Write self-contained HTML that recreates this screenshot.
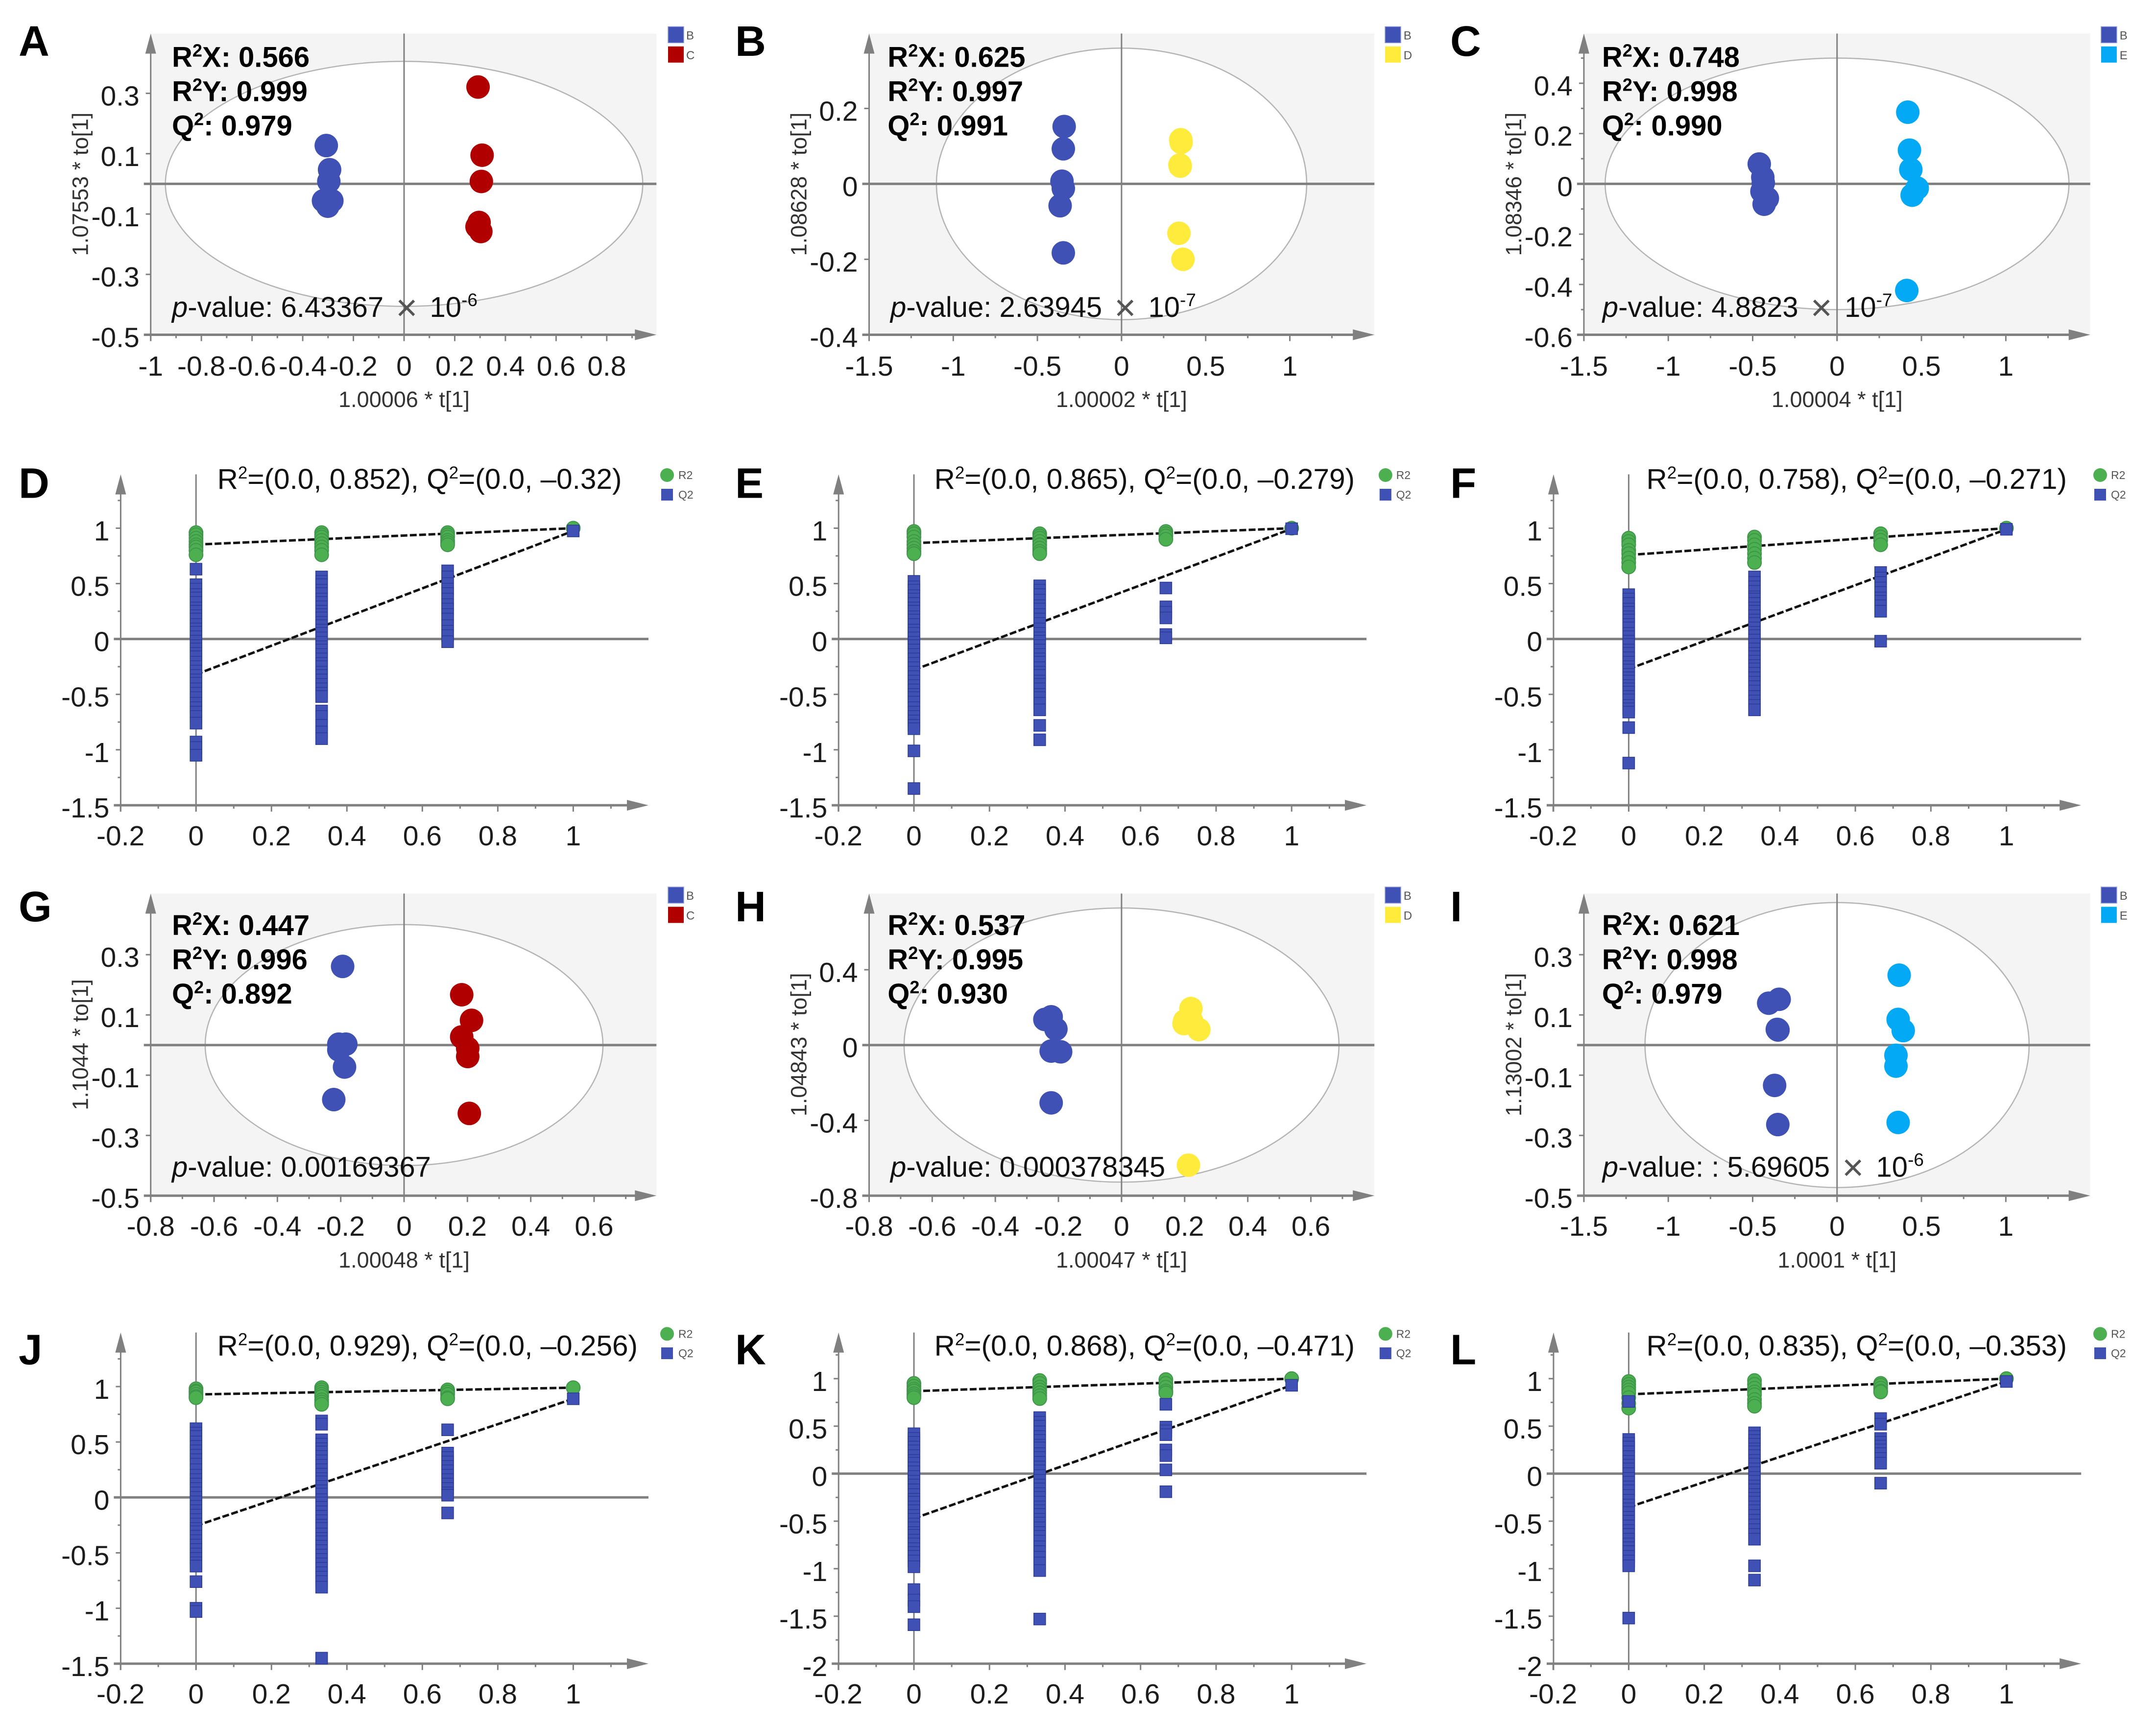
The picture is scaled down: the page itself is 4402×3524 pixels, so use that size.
<!DOCTYPE html>
<html lang="en">
<head>
<meta charset="utf-8">
<title>OPLS-DA score plots and permutation tests</title>
<style>
html,body{margin:0;padding:0;background:#fff;}
svg{display:block;font-family:"Liberation Sans",sans-serif;}
</style>
</head>
<body>
<svg id="figure" xmlns="http://www.w3.org/2000/svg" width="4402" height="3524" viewBox="0 0 4402 3524">
<rect x="0" y="0" width="4402" height="3524" fill="#ffffff"/>
</svg>
<script>
/* ---------- score plot data: t[1] and to[1] for each group ---------- */
const scoreA_t1 = [-0.307,-0.294,-0.297,-0.318,-0.285,-0.301];
const scoreA_to1 = [0.127,0.047,0.008,-0.056,-0.056,-0.074];
const scoreA_t2 = [0.292,0.308,0.305,0.296,0.288,0.303];
const scoreA_to2 = [0.321,0.095,0.008,-0.128,-0.142,-0.158];
const scoreB_t1 = [-0.341,-0.346,-0.354,-0.346,-0.365,-0.346];
const scoreB_to1 = [0.152,0.093,0.007,-0.012,-0.058,-0.183];
const scoreB_t2 = [0.352,0.349,0.341,0.365,0.354,0.347];
const scoreB_to2 = [0.117,0.047,-0.131,-0.2,0.11,0.05];
const scoreC_t1 = [-0.461,-0.44,-0.437,-0.413,-0.432,-0.445];
const scoreC_to1 = [0.079,0.026,0.004,-0.058,-0.081,-0.03];
const scoreC_t2 = [0.419,0.429,0.437,0.475,0.445,0.413];
const scoreC_to2 = [0.285,0.134,0.057,-0.017,-0.045,-0.424];
const scoreG_t1 = [-0.194,-0.206,-0.184,-0.206,-0.188,-0.222];
const scoreG_to1 = [0.261,0.003,0.003,-0.016,-0.073,-0.181];
const scoreG_t2 = [0.182,0.213,0.182,0.201,0.201,0.206];
const scoreG_to2 = [0.167,0.082,0.027,-0.011,-0.038,-0.227];
const scoreH_t1 = [-0.223,-0.243,-0.208,-0.223,-0.193,-0.223];
const scoreH_to1 = [0.15,0.136,0.085,-0.032,-0.036,-0.307];
const scoreH_t2 = [0.22,0.2,0.198,0.222,0.245,0.212];
const scoreH_to2 = [0.194,0.128,0.114,0.128,0.082,-0.638];
const scoreI_t1 = [-0.343,-0.405,-0.354,-0.37,-0.351,-0.35];
const scoreI_to1 = [0.152,0.139,0.052,-0.134,-0.264,0.05];
const scoreI_t2 = [0.368,0.362,0.392,0.349,0.349,0.362];
const scoreI_to2 = [0.232,0.085,0.048,-0.034,-0.07,-0.257];

/* ---------- score plot tick labels ---------- */
const xTicksWide1 = ['-1','-0.8','-0.6','-0.4','-0.2','0','0.2','0.4','0.6','0.8'];
const xTicksOneAndHalf = ['-1.5','-1','-0.5','0','0.5','1'];
const xTicksNarrow = ['-0.8','-0.6','-0.4','-0.2','0','0.2','0.4','0.6'];
const yTicksOdd = ['0.3','0.1','-0.1','-0.3','-0.5'];
const yTicksB = ['0.2','0','-0.2','-0.4'];
const yTicksC = ['0.4','0.2','0','-0.2','-0.4','-0.6'];
const yTicksH = ['0.4','0','-0.4','-0.8'];

/* ---------- permutation x levels and tick labels ---------- */
const permLevels = [0,0.333,0.667,1];
const permXTicks = ['-0.2','0','0.2','0.4','0.6','0.8','1'];
const permYTicksShort = ['1','0.5','0','-0.5','-1','-1.5'];
const permYTicksLong = ['1','0.5','0','-0.5','-1','-1.5','-2'];

/* ---------- permutation data: R2 and Q2 per level, plus regression intercepts ---------- */
const permD_r2 = [[0.96,0.94,0.91,0.88,0.85,0.83,0.8,0.76],[0.96,0.94,0.92,0.89,0.86,0.83,0.8,0.76],[0.96,0.94,0.92,0.89,0.87,0.85],[1]];
const permD_q2 = [[0.63,0.49,0.45,0.4,0.37,0.33,0.28,0.25,0.21,0.18,0.13,0.09,0.06,0.02,-0.02,-0.06,-0.09,-0.13,-0.16,-0.21,-0.25,-0.29,-0.33,-0.37,-0.4,-0.45,-0.49,-0.53,-0.58,-0.62,-0.66,-0.7,-0.76,-0.93,-0.98,-1.05],
  [0.56,0.52,0.49,0.44,0.41,0.36,0.33,0.29,0.25,0.22,0.19,0.15,0.12,0.08,0.05,0.01,-0.03,-0.07,-0.1,-0.14,-0.18,-0.22,-0.25,-0.3,-0.33,-0.37,-0.41,-0.45,-0.49,-0.52,-0.65,-0.7,-0.78,-0.84,-0.9],
  [0.615,0.56,0.5,0.45,0.41,0.36,0.31,0.27,0.22,0.18,0.12,0.07,0.03,-0.025],[0.975]];
const permE_r2 = [[0.97,0.95,0.92,0.88,0.85,0.82,0.79,0.77],[0.95,0.93,0.91,0.88,0.85,0.82,0.79,0.77],[0.97,0.95,0.93,0.9],[1]];
const permE_q2 = [[0.52,0.47,0.44,0.39,0.36,0.32,0.28,0.25,0.2,0.17,0.13,0.08,0.05,0.01,-0.03,-0.06,-0.1,-0.14,-0.18,-0.22,-0.26,-0.3,-0.34,-0.38,-0.42,-0.46,-0.5,-0.53,-0.57,-0.62,-0.66,-0.7,-0.74,-0.78,-0.81,-1.01,-1.35],
  [0.48,0.44,0.4,0.35,0.3,0.27,0.22,0.18,0.14,0.09,0.05,0.01,-0.02,-0.06,-0.1,-0.14,-0.18,-0.21,-0.26,-0.3,-0.33,-0.38,-0.41,-0.45,-0.5,-0.53,-0.58,-0.64,-0.78,-0.91],
  [0.46,0.29,0.24,0.19,0.04,0.01],[0.995]];
const permF_r2 = [[0.91,0.88,0.85,0.8,0.77,0.73,0.69,0.65],[0.92,0.89,0.85,0.81,0.77,0.73,0.69],[0.95,0.92,0.89,0.85],[1]];
const permF_q2 = [[0.4,0.36,0.32,0.27,0.24,0.2,0.17,0.13,0.1,0.05,0.02,-0.02,-0.05,-0.1,-0.13,-0.17,-0.21,-0.25,-0.28,-0.32,-0.35,-0.38,-0.42,-0.45,-0.48,-0.52,-0.55,-0.6,-0.63,-0.66,-0.8,-1.12],
  [0.56,0.51,0.47,0.43,0.38,0.36,0.32,0.28,0.25,0.21,0.17,0.14,0.1,0.06,0.03,-0.01,-0.05,-0.09,-0.13,-0.16,-0.2,-0.24,-0.27,-0.31,-0.35,-0.39,-0.43,-0.47,-0.52,-0.56,-0.6,-0.64],
  [0.6,0.55,0.51,0.46,0.42,0.37,0.34,0.3,0.25,-0.02],[0.99]];
const permJ_r2 = [[0.98,0.96,0.95,0.93,0.91,0.9],[0.99,0.97,0.95,0.93,0.91,0.88,0.86,0.84],[0.97,0.95,0.93,0.9,0.89],[0.99]];
const permJ_q2 = [[0.62,0.58,0.55,0.5,0.46,0.42,0.38,0.34,0.3,0.25,0.2,0.16,0.12,0.08,0.04,0,-0.04,-0.08,-0.12,-0.16,-0.2,-0.24,-0.28,-0.31,-0.35,-0.39,-0.43,-0.47,-0.51,-0.55,-0.59,-0.62,-0.76,-1,-1.03],
  [0.69,0.66,0.52,0.48,0.44,0.41,0.37,0.33,0.29,0.25,0.21,0.17,0.14,0.1,0.06,0.03,-0.02,-0.05,-0.09,-0.13,-0.17,-0.21,-0.25,-0.28,-0.33,-0.37,-0.4,-0.44,-0.48,-0.52,-0.56,-0.6,-0.64,-0.68,-0.72,-0.76,-0.81,-1.45],
  [0.61,0.4,0.36,0.32,0.28,0.24,0.2,0.16,0.12,0.08,0.04,0.02,-0.14],[0.89]];
const permK_r2 = [[0.95,0.92,0.89,0.87,0.84,0.82,0.8],[0.98,0.95,0.91,0.88,0.85,0.82,0.79],[0.99,0.95,0.91,0.87,0.85],[1]];
const permK_q2 = [[0.42,0.37,0.33,0.28,0.24,0.19,0.14,0.11,0.06,0.02,-0.03,-0.08,-0.12,-0.17,-0.22,-0.27,-0.3,-0.35,-0.39,-0.44,-0.48,-0.53,-0.57,-0.62,-0.65,-0.7,-0.74,-0.79,-0.83,-0.87,-0.92,-0.98,-1.22,-1.33,-1.4,-1.59],
  [0.59,0.54,0.5,0.44,0.39,0.35,0.3,0.27,0.21,0.17,0.12,0.07,0.03,-0.02,-0.07,-0.12,-0.16,-0.21,-0.25,-0.3,-0.35,-0.39,-0.43,-0.48,-0.52,-0.57,-0.62,-0.66,-0.71,-0.77,-0.82,-0.88,-0.94,-1.02,-1.53],
  [0.73,0.49,0.45,0.41,0.25,0.19,0.04,-0.19],[0.93]];
const permL_r2 = [[0.97,0.94,0.91,0.88,0.85,0.8,0.74,0.69],[0.98,0.94,0.9,0.86,0.83,0.78,0.74,0.71],[0.95,0.93,0.9,0.87,0.86],[1]];
const permL_q2 = [[0.76,0.36,0.32,0.28,0.23,0.18,0.13,0.09,0.05,0,-0.05,-0.09,-0.14,-0.18,-0.23,-0.28,-0.33,-0.37,-0.41,-0.46,-0.5,-0.55,-0.6,-0.64,-0.69,-0.74,-0.78,-0.82,-0.87,-0.92,-0.97,-1.52],
  [0.43,0.39,0.35,0.31,0.26,0.23,0.19,0.14,0.1,0.05,0.01,-0.04,-0.08,-0.13,-0.17,-0.22,-0.26,-0.3,-0.35,-0.39,-0.44,-0.49,-0.54,-0.59,-0.64,-0.69,-0.97,-1.12],
  [0.58,0.52,0.37,0.33,0.29,0.25,0.21,0.16,0.11,-0.1],[0.97]];
const r2Intercepts = [0.852,0.865,0.758,0.929,0.868,0.835];
const q2Intercepts = [-0.32,-0.279,-0.271,-0.256,-0.471,-0.353];
const permTitleR2 = ['0.852','0.865','0.758','0.929','0.868','0.835'];
const permTitleQ2 = ['–0.32','–0.279','–0.271','–0.256','–0.471','–0.353'];

/* ---------- model statistics ---------- */
const statsR2X = ['0.566','0.625','0.748','0.447','0.537','0.621'];
const statsR2Y = ['0.999','0.997','0.998','0.996','0.995','0.998'];
const statsQ2 = ['0.979','0.991','0.990','0.892','0.930','0.979'];
const pValueText = ['6.43367','2.63945','4.8823','0.00169367','0.000378345',': 5.69605'];
const pValueExp = ['-6','-7','-7','','','-6'];
const xTitles = ['1.00006 * t[1]','1.00002 * t[1]','1.00004 * t[1]','1.00048 * t[1]','1.00047 * t[1]','1.0001 * t[1]'];
const yTitles = ['1.07553 * to[1]','1.08628 * to[1]','1.08346 * to[1]','1.1044 * to[1]','1.04843 * to[1]','1.13002 * to[1]'];
/* ellipse semi-axes in data units */
const ellipseSemiT = [0.942,1.10,1.374,0.628,0.689,1.138];
const ellipseSemiTo = [0.406,0.36,0.5,0.40,0.728,0.473];

/* ---------- layout (pixels) kept apart from the data ---------- */
const columns = [
  {score:{left:307.7,zero:825,right:1340.3,stat:351,pv:351,legX:1364,legT:1401,letter:38},perm:{zero:400.2,unit:770.2,left:246.4,right:1324,title:443.6,legX:1362,legT:1385,letter:38}},
  {score:{left:1774.5,zero:2289.9,right:2806.2,stat:1812.3,pv:1818,legX:2828,legT:2865.7,letter:1501},perm:{zero:1866,unit:771.2,left:1712.2,right:2790,title:1907.6,legX:2828.8,legT:2850.6,letter:1501}},
  {score:{left:3233.9,zero:3750.8,right:4267.7,stat:3270.9,pv:3271.8,legX:4289.9,legT:4327.8,letter:2961},perm:{zero:3325.4,unit:771.2,left:3171.9,right:4249.2,title:3361.5,legX:4288,legT:4310,letter:2961}}
];
const scoreRows = [
  {top:68.5,bottom:683.5,zero:375.4,letterY:114,stat:[136.4,206.5,276.7],pv:647,leg:[54.4,94.8],xBase:767,titleBase:831},
  {top:1824.4,bottom:2441.2,zero:2133.7,letterY:1881,stat:[1909,1979,2049],pv:2402.5,leg:[1811,1851.4],xBase:2523,titleBase:2588}
];
const permRows = [
  {top:968.5,bottom:1644.1,zero:1304.6,letterY:1016.7,title:998,leg:[970,1010],xBase:1726},
  {top:2720.6,bottom:3396.7,zero:3057.3,letterY:2785.6,title:2767.4,leg:[2723.4,2763],xBase:3478}
];
const scorePanels = [
  {id:'A',col:0,row:0,stat:0,xUnit:517.3,yUnit:616,xTicks:xTicksWide1,yTicks:yTicksOdd,xStep:0.1,yMinor:false,g2:'C',color2:'#b00000',t1:scoreA_t1,to1:scoreA_to1,t2:scoreA_t2,to2:scoreA_to2},
  {id:'B',col:1,row:0,stat:1,xUnit:343.6,yUnit:770,xTicks:xTicksOneAndHalf,yTicks:yTicksB,xStep:0.25,yMinor:false,g2:'D',color2:'#ffeb3b',t1:scoreB_t1,to1:scoreB_to1,t2:scoreB_t2,to2:scoreB_to2},
  {id:'C',col:2,row:0,stat:2,xUnit:344.6,yUnit:513.5,xTicks:xTicksOneAndHalf,yTicks:yTicksC,xStep:0.25,yMinor:true,g2:'E',color2:'#03a9f4',t1:scoreC_t1,to1:scoreC_to1,t2:scoreC_t2,to2:scoreC_to2},
  {id:'G',col:0,row:1,stat:3,xUnit:646.6,yUnit:615,xTicks:xTicksNarrow,yTicks:yTicksOdd,xStep:0.1,yMinor:false,g2:'C',color2:'#b00000',t1:scoreG_t1,to1:scoreG_to1,t2:scoreG_t2,to2:scoreG_to2},
  {id:'H',col:1,row:1,stat:4,xUnit:644.3,yUnit:384.4,xTicks:xTicksNarrow,yTicks:yTicksH,xStep:0.1,yMinor:false,g2:'D',color2:'#ffeb3b',t1:scoreH_t1,to1:scoreH_to1,t2:scoreH_t2,to2:scoreH_to2},
  {id:'I',col:2,row:1,stat:5,xUnit:344.6,yUnit:615,xTicks:xTicksOneAndHalf,yTicks:yTicksOdd,xStep:0.25,yMinor:false,g2:'E',color2:'#03a9f4',t1:scoreI_t1,to1:scoreI_to1,t2:scoreI_t2,to2:scoreI_to2}
];
const permPanels = [
  {id:'D',col:0,row:0,idx:0,yUnit:226.2,zero:1304.6,yTicks:permYTicksShort,r2:permD_r2,q2:permD_q2},
  {id:'E',col:1,row:0,idx:1,yUnit:226.2,zero:1304.6,yTicks:permYTicksShort,r2:permE_r2,q2:permE_q2},
  {id:'F',col:2,row:0,idx:2,yUnit:226.2,zero:1304.6,yTicks:permYTicksShort,r2:permF_r2,q2:permF_q2},
  {id:'J',col:0,row:1,idx:3,yUnit:226.3,zero:3057.3,yTicks:permYTicksShort,r2:permJ_r2,q2:permJ_q2},
  {id:'K',col:1,row:1,idx:4,yUnit:194,zero:3008.8,yTicks:permYTicksLong,r2:permK_r2,q2:permK_q2},
  {id:'L',col:2,row:1,idx:5,yUnit:194,zero:3008.8,yTicks:permYTicksLong,r2:permL_r2,q2:permL_q2}
];

const NS = 'http://www.w3.org/2000/svg';
const root = document.getElementById('figure');
const AXIS = '#808080', BLUE = '#3f51b5', GREEN = '#4caf50';

function svgEl(parent, tag, props) {
  const el = document.createElementNS(NS, tag);
  for (const k in props) el.setAttribute(k, props[k]);
  parent.appendChild(el);
  return el;
}
function span(textEl, str, props) {
  const s = document.createElementNS(NS, 'tspan');
  for (const k in (props || {})) s.setAttribute(k, props[k]);
  s.textContent = str;
  textEl.appendChild(s);
  return s;
}
function drawLine(parent, name, x1, y1, x2, y2, w) {
  const l = svgEl(parent, 'line', {x1:x1, y1:y1, x2:x2, y2:y2, stroke:AXIS, 'stroke-width':w});
  
  
  return l;
}
function drawArrows(g, left, right, top, bottom) {
  const up = svgEl(g, 'polygon', {points:`${left-11},${top+41} ${left},${top} ${left+11},${top+41}`, fill:AXIS});
  
  
  const rt = svgEl(g, 'polygon', {points:`${right-44},${bottom-11} ${right},${bottom} ${right-44},${bottom+11}`, fill:AXIS});
  
  
}
function drawTicks(g, xTicks, yTicks, sx, sy, cfg) {
  const xVals = xTicks.map(parseFloat), yVals = yTicks.map(parseFloat);
  xTicks.forEach((lab, i) => {
    drawLine(g, 'x-tick', sx(xVals[i]), cfg.bottom, sx(xVals[i]), cfg.bottom + 13, 3);
    const t = svgEl(g, 'text', {x:sx(xVals[i]), y:cfg.xBase, 'font-size':57, 'text-anchor':'middle', fill:'#1c1c1c'});
    
    
    t.textContent = lab;
  });
  for (let v = xVals[0] + cfg.xStep; sx(v) < cfg.right - 30; v += cfg.xStep * 2) {
    drawLine(g, 'x-minor-tick', sx(v), cfg.bottom, sx(v), cfg.bottom + 7, 3);
  }
  yTicks.forEach((lab, i) => {
    drawLine(g, 'y-tick', cfg.left - 10, sy(yVals[i]), cfg.left, sy(yVals[i]), 3);
    const t = svgEl(g, 'text', {x:cfg.left - 23, y:sy(yVals[i]) + 25, 'font-size':57, 'text-anchor':'end', fill:'#1c1c1c'});
    
    
    t.textContent = lab;
  });
  if (cfg.yMinor) {
    const half = (yVals[0] - yVals[1]) / 2;
    for (let v = yVals[0] + half; sy(v) > cfg.top + 45; v += 2 * half) {
      drawLine(g, 'y-minor-tick', cfg.left - 6, sy(v), cfg.left, sy(v), 3);
    }
    for (let v = yVals[0] - half; sy(v) < cfg.bottom - 5; v -= 2 * half) {
      drawLine(g, 'y-minor-tick', cfg.left - 6, sy(v), cfg.left, sy(v), 3);
    }
  }
}
function drawLetter(g, letter, x, y) {
  const t = svgEl(g, 'text', {x:x, y:y, 'font-size':87, 'font-weight':'bold', fill:'#000'});
  
  
  t.textContent = letter;
}
function statLine(g, x, y, a, sup, b) {
  const t = svgEl(g, 'text', {x:x, y:y, 'font-size':58, 'font-weight':'bold', fill:'#000'});
  
  
  span(t, a);
  span(t, sup, {'font-size':36, dy:-21});
  span(t, b, {dy:21});
}

/* ---------- score plots ---------- */
scorePanels.forEach(p => {
  const col = columns[p.col].score, row = scoreRows[p.row], s = p.stat;
  const sx = v => col.zero + v * p.xUnit;
  const sy = v => row.zero - v * p.yUnit;
  const g = svgEl(root, 'g', {});
  
  
  drawLetter(g, p.id, col.letter, row.letterY);

  const bg = svgEl(g, 'rect', {x:col.left, y:row.top, width:col.right - col.left, height:row.bottom - row.top, fill:'#f4f4f4'});
  
  
  const el = svgEl(g, 'ellipse', {cx:sx(0), cy:sy(0), rx:ellipseSemiT[s] * p.xUnit, ry:ellipseSemiTo[s] * p.yUnit, fill:'#ffffff', stroke:'#b4b4b4', 'stroke-width':2.5});
  
  

  drawLine(g, 'vertical-zero-line', sx(0), row.top, sx(0), row.bottom + 13, 3);
  drawLine(g, 'horizontal-zero-line', col.left - 14, sy(0), col.right, sy(0), 5);
  drawLine(g, 'x-axis-line', col.left - 14, row.bottom, col.right - 30, row.bottom, 5);
  drawLine(g, 'y-axis-line', col.left, row.top + 20, col.left, row.bottom + 13, 3);
  drawArrows(g, col.left, col.right, row.top, row.bottom);
  drawTicks(g, p.xTicks, p.yTicks, sx, sy, {left:col.left, right:col.right, top:row.top, bottom:row.bottom, xBase:row.xBase, xStep:p.xStep, yMinor:p.yMinor});

  p.t1.forEach((v, i) => {
    const c = svgEl(g, 'circle', {cx:sx(v), cy:sy(p.to1[i]), r:24, fill:BLUE});
    
    
  });
  p.t2.forEach((v, i) => {
    const c = svgEl(g, 'circle', {cx:sx(v), cy:sy(p.to2[i]), r:24, fill:p.color2});
    
    
  });

  statLine(g, col.stat, row.stat[0], 'R', '2', 'X: ' + statsR2X[s]);
  statLine(g, col.stat, row.stat[1], 'R', '2', 'Y: ' + statsR2Y[s]);
  statLine(g, col.stat, row.stat[2], 'Q', '2', ': ' + statsQ2[s]);

  const pv = svgEl(g, 'text', {x:col.pv, y:row.pv, 'font-size':58, fill:'#111'});
  
  
  span(pv, 'p', {'font-style':'italic'});
  span(pv, '-value: ' + pValueText[s]);
  if (pValueExp[s]) {
    span(pv, '×', {fill:'#555', 'font-size':76, dx:25, dy:7});
    span(pv, '10', {dx:25, dy:-7});
    span(pv, pValueExp[s], {'font-size':37, dy:-22});
  }

  const xt = svgEl(g, 'text', {x:sx(0), y:row.titleBase, 'font-size':45, 'text-anchor':'middle', fill:'#333'});
  
  
  xt.textContent = xTitles[s];
  const bx = col.left - 128, by = (row.top + row.bottom) / 2;
  const yt = svgEl(g, 'text', {x:bx, y:by, 'font-size':45, 'text-anchor':'middle', fill:'#333', transform:`rotate(-90 ${bx} ${by})`});
  
  
  yt.textContent = yTitles[s];

  const leg1 = svgEl(g, 'rect', {x:col.legX, y:row.leg[0], width:32, height:33, fill:BLUE, stroke:'#8f9ad8', 'stroke-width':1.5});
  
  
  const lab1 = svgEl(g, 'text', {x:col.legT, y:row.leg[0] + 26, 'font-size':24, fill:'#555'});
  
  
  lab1.textContent = 'B';
  const leg2 = svgEl(g, 'rect', {x:col.legX, y:row.leg[1], width:32, height:33, fill:p.color2});
  
  
  const lab2 = svgEl(g, 'text', {x:col.legT, y:row.leg[1] + 26, 'font-size':24, fill:'#555'});
  
  
  lab2.textContent = p.g2;
});

/* ---------- permutation plots ---------- */
permPanels.forEach(p => {
  const col = columns[p.col].perm, row = permRows[p.row], n = p.idx;
  const sx = v => col.zero + v * col.unit;
  const sy = v => p.zero - v * p.yUnit;
  const g = svgEl(root, 'g', {});
  
  
  drawLetter(g, p.id, col.letter, row.letterY);

  const title = svgEl(g, 'text', {x:col.title, y:row.title, 'font-size':58.5, fill:'#111'});
  
  
  span(title, 'R');
  span(title, '2', {'font-size':35, dy:-21});
  span(title, '=(0.0, ' + permTitleR2[n] + '), Q', {dy:21});
  span(title, '2', {'font-size':35, dy:-21});
  span(title, '=(0.0, ' + permTitleQ2[n] + ')', {dy:21});

  drawLine(g, 'vertical-zero-line', sx(0), row.top, sx(0), row.bottom + 13, 3);
  drawLine(g, 'horizontal-zero-line', col.left - 14, sy(0), col.right, sy(0), 5);
  drawLine(g, 'x-axis-line', col.left - 14, row.bottom, col.right - 30, row.bottom, 5);
  drawLine(g, 'y-axis-line', col.left, row.top + 20, col.left, row.bottom + 13, 3);
  drawArrows(g, col.left, col.right, row.top, row.bottom);
  drawTicks(g, permXTicks, p.yTicks, sx, sy, {left:col.left, right:col.right, top:row.top, bottom:row.bottom, xBase:row.xBase, xStep:0.1, yMinor:true});

  const r2End = p.r2[3][0], q2End = p.q2[3][0];
  const l1 = svgEl(g, 'line', {x1:sx(0), y1:sy(r2Intercepts[n]), x2:sx(1), y2:sy(r2End), stroke:'#111', 'stroke-width':5, 'stroke-dasharray':'14 5'});
  
  
  const l2 = svgEl(g, 'line', {x1:sx(0), y1:sy(q2Intercepts[n]), x2:sx(1), y2:sy(q2End), stroke:'#111', 'stroke-width':5, 'stroke-dasharray':'14 5'});
  
  

  p.r2.forEach((vals, lv) => vals.forEach(v => {
    const c = svgEl(g, 'circle', {cx:sx(permLevels[lv]), cy:sy(v), r:14, fill:GREEN, stroke:'#3f9549', 'stroke-width':2});
    
    
  }));
  p.q2.forEach((vals, lv) => vals.forEach(v => {
    const r = svgEl(g, 'rect', {x:sx(permLevels[lv]) - 12, y:sy(v) - 12, width:24, height:24, fill:BLUE, stroke:'#2c3a94', 'stroke-width':1.5});
    
    
  }));

  const lc = svgEl(g, 'circle', {cx:col.legX, cy:row.leg[0], r:14, fill:GREEN});
  
  
  const lt1 = svgEl(g, 'text', {x:col.legT, y:row.leg[0] + 8, 'font-size':23, fill:'#555'});
  
  
  lt1.textContent = 'R2';
  const ls = svgEl(g, 'rect', {x:col.legX - 12, y:row.leg[1] - 12, width:24, height:24, fill:BLUE});
  
  
  const lt2 = svgEl(g, 'text', {x:col.legT, y:row.leg[1] + 8, 'font-size':23, fill:'#555'});
  
  
  lt2.textContent = 'Q2';
});
</script>
</body>
</html>
